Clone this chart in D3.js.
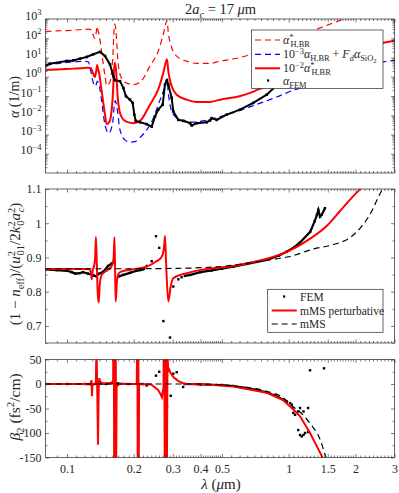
<!DOCTYPE html>
<html><head><meta charset="utf-8">
<script src="https://cdn.jsdelivr.net/npm/d3@7"></script>
<style>
body{margin:0;background:#fff}
</style></head><body>
<svg id="c" width="399" height="493"></svg>
<script>
// ---------------- DATA ----------------
// Panel 1: attenuation (1/m)
const lamStar = [0.080,0.090,0.100,0.110,0.120,0.125,0.128,0.131,0.1335,0.1355,0.1368,0.138,0.1395,0.1434,0.1484,0.151,0.156,0.1607,0.164,0.166,0.1695,0.1734,0.1826,0.199,0.2134,0.2367,0.258,0.272,0.2825,0.2864,0.2967,0.3125,0.3467,0.3846,0.44,0.49,0.60,0.67,0.73,0.90,1.125,1.70,2.10,2.71,3.0];
const alphaStar = [224,240,251,269,288,295,282,158,95.5,200,407,251,162,17.8,1.07,0.347,0.513,7.94,537,295,7.94,1.32,0.513,0.389,0.513,3.55,21.9,162,813,195,32.4,11.7,6.46,4.90,4.90,6.46,9.77,14.5,21.9,53.7,141,832,2000,6030,7410];
const alphaStarScaled = [2.24,2.40,2.51,2.69,2.88,2.95,2.82,1.58,0.955,2.00,4.07,2.51,1.62,0.178,0.0107,0.00347,0.00513,0.0794,5.37,2.95,0.0794,0.0132,0.00513,0.00389,0.00513,0.0355,0.219,1.62,8.13,1.95,0.324,0.117,0.0646,0.0490,0.0490,0.0646,0.0977,0.145,0.219,0.537,1.41,8.32,20.0,60.3,74.1];
const lamBlue = [0.080,0.090,0.100,0.110,0.120,0.125,0.127,0.1315,0.1345,0.137,0.140,0.1434,0.1484,0.1545,0.161,0.163,0.165,0.169,0.1734,0.1826,0.1923,0.2026,0.2134,0.2288,0.2451,0.258,0.272,0.2825,0.2864,0.2935,0.307,0.3347,0.3713,0.398,0.525,0.692,0.883,1.049,1.40,1.90,2.71,3.0];
const alphaBlue = [3.80,4.79,5.50,6.03,6.31,6.03,2.95,0.490,0.324,0.589,0.324,0.0525,0.00316,0.00117,0.00479,0.0240,0.0575,0.0158,0.00174,0.000525,0.000398,0.000427,0.000692,0.00174,0.00708,0.0355,0.178,0.724,0.145,0.0240,0.00871,0.00513,0.00437,0.00479,0.0107,0.0316,0.0891,0.200,0.525,1.58,6.17,7.08];
const lamFem1 = [0.0804,0.0836,0.0997,0.1068,0.1145,0.1227,0.1314,0.1409,0.1484,0.1563,0.1618,0.1647,0.1734,0.1795,0.1845,0.1923,0.1978,0.2012,0.2041,0.2134,0.2288,0.2410,0.2494,0.258,0.2702,0.2767,0.2825,0.2864,0.2967,0.3016,0.3177,0.3347,0.3588,0.3651,0.3846,0.4267,0.4417,0.4494,0.4734,0.525,0.603,0.692,0.796,0.868,1.0,1.2,1.45];
const alphaFem1 = [3.80,4.79,6.61,7.08,8.71,10.7,14.8,19.5,12.0,4.37,1.07,0.661,0.589,0.263,0.0977,0.0646,0.0437,0.0107,0.00513,0.00437,0.00347,0.00257,0.00871,0.0195,0.0355,0.398,0.646,0.398,0.0794,0.0158,0.00575,0.00513,0.00389,0.00295,0.00389,0.00437,0.00537,0.00708,0.00575,0.0107,0.0195,0.0437,0.117,0.302,0.794,3.16,15.8];

// Panel 2: normalised effective index
const lamMMS2 = [0.08,0.2,0.3,0.4,0.525,0.6,0.75,0.9,1.0,1.3,1.58,1.89,2.16,2.39,2.55,2.65,2.8];
const valMMS2 = [0.867,0.867,0.868,0.870,0.875,0.880,0.889,0.897,0.902,0.925,0.937,0.958,0.995,1.04,1.08,1.10,1.14];
const lamPert2 = [0.080,0.125,0.1285,0.1292,0.1305,0.1325,0.1340,0.1350,0.1362,0.1375,0.1390,0.1405,0.1434,0.1484,0.156,0.1605,0.1625,0.1637,0.1648,0.1658,0.168,0.170,0.1745,0.1966,0.2288,0.252,0.2674,0.2740,0.2767,0.2800,0.2864,0.2935,0.3016,0.3467,0.398,0.5625,0.796,1.01,1.25,1.5,1.7,1.96,2.10,2.3];
const valPert2 = [0.866,0.866,0.855,0.836,0.86,0.875,0.90,0.960,0.89,0.80,0.768,0.82,0.849,0.858,0.868,0.880,0.905,0.959,0.86,0.771,0.830,0.849,0.858,0.865,0.873,0.888,0.902,0.930,0.963,0.88,0.771,0.815,0.839,0.854,0.863,0.875,0.896,0.92,0.955,0.995,1.035,1.08,1.10,1.14];
const lamFem2 = [0.080,0.090,0.100,0.105,0.109,0.114,0.118,0.124,0.128,0.132,0.136,0.1387,0.1457,0.1531,0.1596,0.1625,null,0.1703,0.1795,0.1923,0.2062,0.2134,0.222,null,0.34,0.36,0.4,0.45,0.5,0.5625,0.65,0.796,0.9,0.98,1.06,1.125,1.25,1.31,1.34,1.36,1.385,1.41,1.457];
const valFem2 = [0.865,0.863,0.861,0.857,0.853,0.854,0.857,0.853,0.851,0.847,0.845,0.852,0.858,0.875,0.883,0.887,null,0.844,0.849,0.855,0.861,0.863,0.866,null,0.846,0.849,0.857,0.862,0.867,0.873,0.881,0.893,0.905,0.917,0.93,0.944,0.975,1.006,1.024,1.039,1.019,1.025,1.044];
const lamFem2Out = [0.2288,0.2410,0.252,0.2606,0.272,0.2915,0.3016,0.3177,0.3288];
const valFem2Out = [0.875,0.889,0.962,0.928,0.714,0.666,0.815,0.836,0.842];

// Panel 3: GVD
const lamPert3 = [0.08,0.125,0.1282,0.1290,0.1296,0.1303,0.1340,0.1350,0.1358,0.1368,0.1380,0.1390,0.1400,0.1410,0.145,0.158,0.1615,0.1625,0.1633,0.1641,0.1649,0.1657,0.1665,0.1675,0.172,0.2065,0.2075,0.2085,0.2095,0.2105,0.2115,0.24,0.2575,0.265,0.268,0.2705,0.2724,0.2745,0.2760,0.2775,0.2790,0.2805,0.2820,0.2840,0.2864,0.289,0.2915,0.3016,0.318,0.341,0.398,0.5625,0.796,0.944,1.05,1.125,1.248,1.385,1.42,1.5];
const valPert3 = [0,0,1,8,-25,0,1,3,80,0,-124,-10,12,5,1,2,6,200,-200,200,-200,200,-200,-5,0,0,200,-200,200,-200,0,-1,-12,-22,-27,-15,-8,200,-200,200,-200,200,-200,60,25,29,25,14,6,0,0,-5,-18,-33,-52,-66,-100,-140,-150,-175];
const lamMMS3 = [0.08,0.3,0.4,0.5625,0.796,0.944,1.05,1.125,1.25,1.385,1.46,1.52];
const valMMS3 = [0,0,0,-4,-15,-28,-47,-57,-81,-113,-145,-170];
const lamFem3 = [0.08,0.1,0.12,0.13,0.14,0.15,0.16,0.17,0.19,0.21,0.22,null,0.34,0.4,0.5,0.5625,0.65,0.72,0.796,0.87,0.944,0.98];
const valFem3 = [0,0,0,-1,1,0,2,1,0,0,0,null,0,-1,-2,-4,-8,-12,-17,-24,-32,-36];
const lamFem3Out = [0.2288,0.252,0.2606,0.2767,0.2825,0.2935,0.3016,0.3125,0.334,1.014,1.032,1.043,1.049,1.068,1.104,1.125,1.166,1.223,1.104,1.125,1.144,1.166,1.185,1.223,1.248,1.443];
const valFem3Out = [-3,17,25,-10,-46,-24,21,24,-6,-39,-42,-49,-59,-63,-56,-49,-56,-49,-94,-104,-107,-104,-100,-98,28,32];

// Ticks
const xTicks = [0.1,0.2,0.3,0.4,0.5,1,1.5,2,3];
const xTickLabels = ["0.1","0.2","0.3","0.4","0.5","1","1.5","2","3"];
const y1Exp = [-4,-3,-2,-1,0,1,2,3];
const y2Ticks = [0.7,0.8,0.9,1,1.1];
const y2Labels = ["0.7","0.8","0.9","1","1.1"];
const y2Minor = [0.65,0.75,0.85,0.95,1.05];
const y3Ticks = [-150,-100,-50,0,50];
const y3Labels = ["-150","-100","-50","0","50"];
const y3Minor = [-125,-75,-25,25];

// ---------------- DRAW ----------------
const FONT = '"Liberation Serif", "Times New Roman", serif';
const svg = d3.select('#c');
const L = 45.5, R = 394.5;
const x = d3.scaleLog().domain([0.08,3]).range([L,R]);
const P = [{t:19,b:173},{t:189,b:343},{t:359.5,b:457.5}];
const y1 = d3.scaleLog().domain([1e-5,1e3]).range([P[0].b,P[0].t]);
const y2 = d3.scaleLinear().domain([0.65,1.1]).range([P[1].b,P[1].t]);
const y3 = d3.scaleLinear().domain([-150,50]).range([P[2].b,P[2].t]);
const AX = '#262626';

// minor x ticks: linear subdivisions between the custom major ticks
const xMinor = [0.09];
for(let k=0;k<xTicks.length-1;k++){
  const a=xTicks[k], b=xTicks[k+1];
  for(let j=1;j<10;j++) xMinor.push(a+(b-a)*j/10);
}

P.forEach((p,i)=>{
  svg.append('clipPath').attr('id','clip'+i).append('rect')
    .attr('x',L).attr('y',p.t).attr('width',R-L).attr('height',p.b-p.t);
});

function txt(parent, size){
  return parent.append('text').style('font-family',FONT).style('font-size',size+'px').style('fill',AX);
}
function rich(sel, tokens, size){
  let cur = 0;
  tokens.forEach(tk=>{
    const lvl = tk.l||0;
    const off = {0:0,1:-0.36*size,'-1':0.25*size,'-2':0.42*size}[lvl];
    const fs = lvl===0?size:(lvl===-2?size*0.55:size*0.7);
    const ts = sel.append('tspan').text(tk.t).attr('dy',off-cur).style('font-size',fs+'px');
    if(tk.i) ts.style('font-style','italic');
    if(tk.dx) ts.attr('dx',tk.dx);
    cur = off;
  });
}

function pathOf(xs, ys, ys_, curve){
  const data = xs.map((v,i)=>[v,ys[i]]);
  return d3.line().defined(d=>d[0]!=null && d[1]!=null)
    .x(d=>x(d[0])).y(d=>ys_(d[1])).curve(curve||d3.curveMonotoneX)(data);
}

function frame(i, yS, yTicks, yMinor, yFmt, xLabels){
  const p = P[i];
  const g = svg.append('g');
  const ab = d3.axisBottom(x).tickValues(xTicks).tickSize(-3.5).tickSizeOuter(0).tickPadding(7)
      .tickFormat((d,k)=> xLabels? xTickLabels[k] : '');
  const gb = g.append('g').attr('transform',`translate(0,${p.b})`).call(ab);
  g.append('g').attr('transform',`translate(0,${p.t})`).call(d3.axisTop(x).tickValues(xTicks).tickSize(-3.5).tickSizeOuter(0).tickFormat(''));
  g.append('g').attr('transform',`translate(0,${p.b})`).call(d3.axisBottom(x).tickValues(xMinor).tickSize(-2).tickSizeOuter(0).tickFormat(''));
  g.append('g').attr('transform',`translate(0,${p.t})`).call(d3.axisTop(x).tickValues(xMinor).tickSize(-2).tickSizeOuter(0).tickFormat(''));
  const al = d3.axisLeft(yS).tickValues(yTicks).tickSize(-3.5).tickSizeOuter(0).tickPadding(4).tickFormat(yFmt);
  const gl = g.append('g').attr('transform',`translate(${L},0)`).call(al);
  g.append('g').attr('transform',`translate(${R},0)`).call(d3.axisRight(yS).tickValues(yTicks).tickSize(-3.5).tickSizeOuter(0).tickFormat(''));
  g.append('g').attr('transform',`translate(${L},0)`).call(d3.axisLeft(yS).tickValues(yMinor).tickSize(-2).tickSizeOuter(0).tickFormat(''));
  g.append('g').attr('transform',`translate(${R},0)`).call(d3.axisRight(yS).tickValues(yMinor).tickSize(-2).tickSizeOuter(0).tickFormat(''));
  g.selectAll('.domain').remove();
  g.selectAll('line').attr('stroke',AX).attr('stroke-width',0.6);
  g.selectAll('.tick text').filter(function(){return this.textContent==='';}).remove();
  g.selectAll('text').style('font-family',FONT).style('font-size','12px').style('fill',AX);
  g.append('rect').attr('x',L).attr('y',p.t).attr('width',R-L).attr('height',p.b-p.t)
    .attr('fill','none').attr('stroke',AX).attr('stroke-width',0.7);
  return {g, gl, gb};
}

// ---- Panel 1 ----
const c1 = svg.append('g').attr('clip-path','url(#clip0)');
c1.append('path').attr('d',pathOf(lamStar,alphaStar,y1)).attr('fill','none').attr('stroke','#ff0000').attr('stroke-width',1.2).attr('stroke-dasharray','6,4');
c1.append('path').attr('d',pathOf(lamBlue,alphaBlue,y1)).attr('fill','none').attr('stroke','#0000ff').attr('stroke-width',1.2).attr('stroke-dasharray','6,4');
c1.append('path').attr('d',pathOf(lamStar,alphaStarScaled,y1)).attr('fill','none').attr('stroke','#ff0000').attr('stroke-width',2);
c1.append('path').attr('d',pathOf(lamFem1,alphaFem1,y1,d3.curveLinear)).attr('fill','none').attr('stroke','#000').attr('stroke-width',2);
c1.selectAll('.d1').data(lamFem1.map((v,i)=>[v,alphaFem1[i]])).enter().append('rect')
  .attr('x',d=>x(d[0])-1.3).attr('y',d=>y1(d[1])-1.3).attr('width',2.6).attr('height',2.6).attr('fill','#000');

const y1Ticks = y1Exp.map(e=>Math.pow(10,e));
const y1Minor = [];
for(let e=-5;e<3;e++) for(let m=2;m<10;m++) y1Minor.push(m*Math.pow(10,e));
const f1 = frame(0,y1,y1Ticks,y1Minor,(d,k)=>'10^'+y1Exp[k],false);
f1.gl.selectAll('.tick text').each(function(d,k){
  const t = d3.select(this); t.text('');
  rich(t,[{t:'10'},{t:String(y1Exp[k]).replace('-','\u2212'),l:1}],12);
});

// legend 1
const lg1 = svg.append('g');
lg1.append('rect').attr('x',251.5).attr('y',30).attr('width',131.5).attr('height',58.5).attr('fill','#fff').attr('stroke',AX).attr('stroke-width',0.7);
const rows1 = [40,54.3,68.3,80.5];
lg1.append('line').attr('x1',255).attr('x2',280).attr('y1',rows1[0]).attr('y2',rows1[0]).attr('stroke','#f00').attr('stroke-width',1.2).attr('stroke-dasharray','6,4');
lg1.append('line').attr('x1',255).attr('x2',280).attr('y1',rows1[1]).attr('y2',rows1[1]).attr('stroke','#00f').attr('stroke-width',1.2).attr('stroke-dasharray','6,4');
lg1.append('line').attr('x1',255).attr('x2',280).attr('y1',rows1[2]).attr('y2',rows1[2]).attr('stroke','#f00').attr('stroke-width',2);
lg1.append('rect').attr('x',267).attr('y',rows1[3]-1.1).attr('width',2.2).attr('height',2.2).attr('fill','#000');
const lt = (y)=>txt(lg1,12).attr('x',283).attr('y',y+4);
rich(lt(rows1[0]),[{t:'α',i:true},{t:'*',l:1},{t:'H,BR',l:-1,dx:-3}],12);
rich(lt(rows1[1]),[{t:'10'},{t:'\u22123',l:1},{t:'α',i:true},{t:'H,BR',l:-1},{t:' + '},{t:'F',i:true},{t:'d',l:-1,i:true},{t:'α',i:true},{t:'SiO',l:-1},{t:'2',l:-2}],12);
rich(lt(rows1[2]),[{t:'10'},{t:'\u22122',l:1},{t:'α',i:true},{t:'*',l:1},{t:'H,BR',l:-1,dx:-3}],12);
rich(lt(rows1[3]),[{t:'α',i:true},{t:'FEM',l:-1}],12);

// ---- Panel 2 ----
const c2 = svg.append('g').attr('clip-path','url(#clip1)');
c2.append('path').attr('d',pathOf(lamFem2,valFem2,y2,d3.curveLinear)).attr('fill','none').attr('stroke','#000').attr('stroke-width',2.2);
const fem2pts = lamFem2.map((v,i)=>[v,valFem2[i]]).filter(d=>d[0]!=null).concat(lamFem2Out.map((v,i)=>[v,valFem2Out[i]]));
c2.selectAll('.d2').data(fem2pts).enter().append('rect')
  .attr('x',d=>x(d[0])-1.2).attr('y',d=>y2(d[1])-1.2).attr('width',2.4).attr('height',2.4).attr('fill','#000');
c2.append('path').attr('d',pathOf(lamPert2,valPert2,y2)).attr('fill','none').attr('stroke','#ff0000').attr('stroke-width',2);
c2.append('path').attr('d',pathOf(lamMMS2,valMMS2,y2)).attr('fill','none').attr('stroke','#000').attr('stroke-width',1.2).attr('stroke-dasharray','6,4');
frame(1,y2,y2Ticks,y2Minor,(d,k)=>y2Labels[k],false);

const lg2 = svg.append('g');
lg2.append('rect').attr('x',267.7).attr('y',289.3).attr('width',115.3).attr('height',43).attr('fill','#fff').attr('stroke',AX).attr('stroke-width',0.7);
const rows2 = [296.5,310.5,324];
lg2.append('rect').attr('x',283).attr('y',rows2[0]-1.1).attr('width',2.2).attr('height',2.2).attr('fill','#000');
lg2.append('line').attr('x1',271.7).attr('x2',296.7).attr('y1',rows2[1]).attr('y2',rows2[1]).attr('stroke','#f00').attr('stroke-width',2);
lg2.append('line').attr('x1',271.7).attr('x2',296.7).attr('y1',rows2[2]).attr('y2',rows2[2]).attr('stroke','#000').attr('stroke-width',1.2).attr('stroke-dasharray','6,4');
['FEM','mMS perturbative','mMS'].forEach((s,k)=>txt(lg2,11.5).attr('x',300).attr('y',rows2[k]+4).text(s));

// ---- Panel 3 ----
const c3 = svg.append('g').attr('clip-path','url(#clip2)');
c3.append('path').attr('d',pathOf(lamFem3,valFem3,y3,d3.curveLinear)).attr('fill','none').attr('stroke','#000').attr('stroke-width',2);
const fem3pts = lamFem3.map((v,i)=>[v,valFem3[i]]).filter(d=>d[0]!=null).concat(lamFem3Out.map((v,i)=>[v,valFem3Out[i]]));
c3.selectAll('.d3').data(fem3pts).enter().append('rect')
  .attr('x',d=>x(d[0])-1.2).attr('y',d=>y3(d[1])-1.2).attr('width',2.4).attr('height',2.4).attr('fill','#000');
c3.append('path').attr('d',pathOf(lamPert3,valPert3,y3,d3.curveLinear)).attr('fill','none').attr('stroke','#ff0000').attr('stroke-width',2);
c3.append('path').attr('d',pathOf(lamMMS3,valMMS3,y3)).attr('fill','none').attr('stroke','#000').attr('stroke-width',1.2).attr('stroke-dasharray','6,4');
frame(2,y3,y3Ticks,y3Minor,(d,k)=>y3Labels[k],true);

// ---- titles / labels ----
rich(txt(svg,14.5).attr('x',185).attr('y',14),
  [{t:'2'},{t:'a',i:true},{t:'c',l:-1,i:true},{t:' = 17 '},{t:'μ',i:true},{t:'m'}],14.5);
rich(txt(svg,14).attr('text-anchor','middle').attr('transform','translate(19,97) rotate(-90)'),
  [{t:'α',i:true},{t:' (1/m)'}],14);
rich(txt(svg,15).attr('text-anchor','middle').attr('transform','translate(20,264) rotate(-90)'),
  [{t:'(1 \u2212 '},{t:'n',i:true},{t:'eff',l:-1},{t:')/('},{t:'u',i:true},{t:'2',l:1},{t:'01',l:-1,dx:-4.5},{t:'/2'},{t:'k',i:true},{t:'2',l:1},{t:'0',l:-1,dx:-4.5},{t:'a',i:true},{t:'2',l:1},{t:'c',l:-1,i:true,dx:-4.5},{t:')'}],15);
rich(txt(svg,15.5).attr('text-anchor','middle').attr('transform','translate(20,407) rotate(-90)'),
  [{t:'β',i:true},{t:'2',l:-1},{t:' (fs'},{t:'2',l:1},{t:'/cm)'}],15.5);
rich(txt(svg,15).attr('text-anchor','middle').attr('x',221).attr('y',489),
  [{t:'λ',i:true},{t:' ('},{t:'μ',i:true},{t:'m)'}],15);
</script></body></html>
